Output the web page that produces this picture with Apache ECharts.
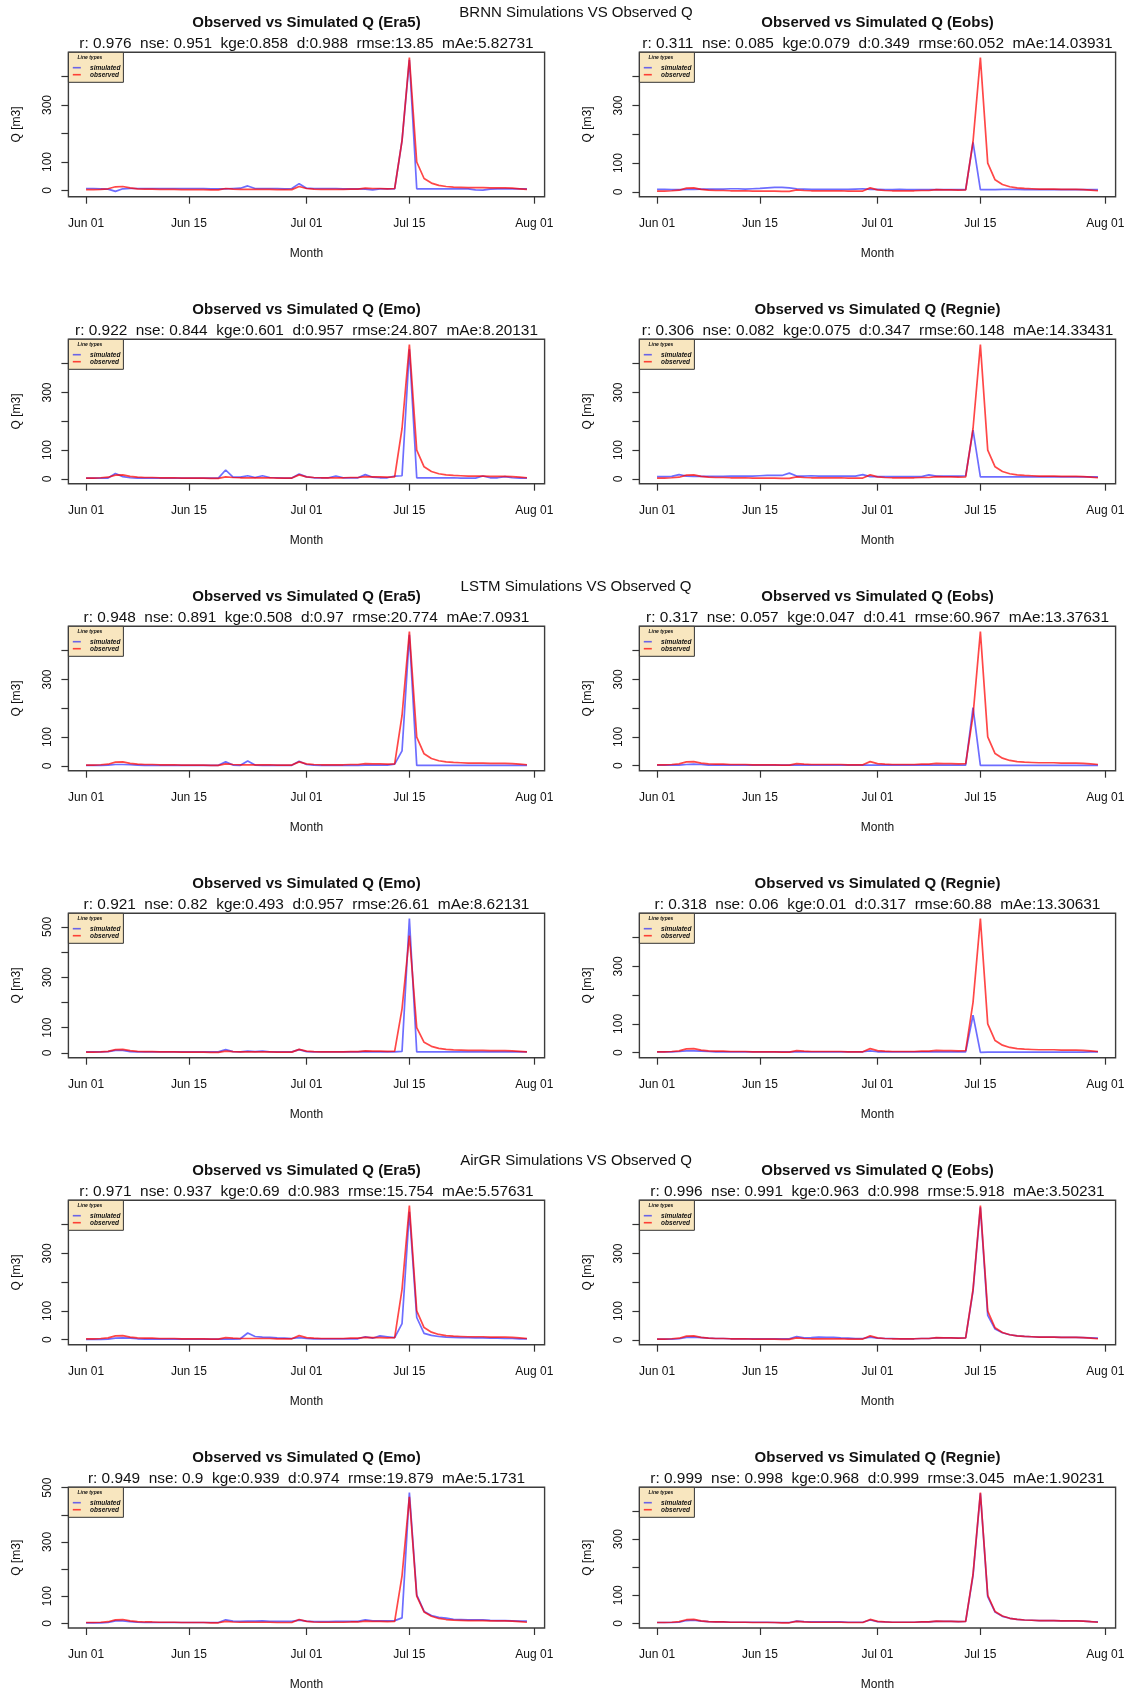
<!DOCTYPE html>
<html><head><meta charset="utf-8">
<script src="https://cdn.jsdelivr.net/npm/echarts@6/dist/echarts.min.js"></script>
<style>html,body{margin:0;padding:0;background:#fff}#c{width:1133px;height:1692px}</style>
</head><body><div id="c"></div>
<script>
// ---- data (day index 0 = Jun 01 ... 60 = Jul 31) ----
const xTickDays = [0, 14, 30, 44, 61];
const xTickLabels = ['Jun 01', 'Jun 15', 'Jul 01', 'Jul 15', 'Aug 01'];
const yTickValues = [0, 100, 200, 300, 400, 500];
const yLabelValues = [0, 100, 300, 500];
const groupTitles = ['BRNN Simulations VS Observed Q', 'LSTM Simulations VS Observed Q', 'AirGR Simulations VS Observed Q'];
const panelTitles = ['Observed vs Simulated Q (Era5)', 'Observed vs Simulated Q (Eobs)', 'Observed vs Simulated Q (Emo)', 'Observed vs Simulated Q (Regnie)'];

const observed = [3,3,4,6,13,14,9,6,5,5, 4,4,4,3,3,3,3,2,2,7, 5,4,4,4,4,4,3,3,3,14, 7,5,4,4,4,4,5,5,8,7, 7,6,7,175,466,100,42,26,18,14, 12,11,10,10,10,9,9,9,8,6,4];

const simBRNN_Era5 = [7,7,6,5,-3,6,7,7,7,7, 7,7,7,7,7,7,7,6,6,6, 7,8,16,7,7,7,7,6,7,24, 8,7,7,7,7,6,6,6,5,2, 6,6,6,175,458,6,6,6,6,6, 6,6,6,2,1,5,6,6,6,6,6];
const simBRNN_Eobs = [9,9,8,8,9,9,10,10,10,10, 11,11,10,11,12,14,16,16,14,11, 10,9,9,9,9,9,9,10,11,9, 9,8,8,9,8,8,8,8,8,8, 8,8,8,172,8,8,8,9,9,9, 8,8,8,8,8,8,8,8,8,8,8];
const simBRNN_Emo = [3,3,3,3,19,8,4,3,3,3, 3,3,3,3,3,3,3,3,3,31, 6,6,11,5,11,5,4,3,3,17, 7,4,4,4,10,4,4,4,15,6, 4,4,10,11,450,4,4,4,4,4, 4,3,3,3,10,4,4,8,4,3,3];
const simBRNN_Regnie = [8,8,9,15,10,9,9,9,9,9, 10,10,10,10,11,12,12,12,20,10, 10,11,10,10,10,10,10,10,15,8, 8,8,8,8,8,8,8,14,10,10, 10,10,11,169,7,7,7,7,7,7, 7,7,7,7,7,7,7,7,7,7,7];
const simLSTM_Era5 = [2,2,2,3,5,5,4,3,2,2, 2,2,2,2,2,2,2,2,2,14, 3,2,17,3,2,2,2,2,2,16, 5,3,2,2,2,2,2,2,3,3, 3,3,6,52,455,2,2,2,2,2, 2,2,2,2,2,2,2,2,2,2,2];
const simLSTM_Eobs = [2,2,2,2,4,5,4,2,2,2, 2,2,2,2,2,2,2,2,2,2, 2,2,2,2,2,2,2,2,2,2, 2,2,2,2,2,2,2,2,2,2, 2,2,2,202,1,1,1,1,1,1, 1,1,1,1,1,1,1,1,1,1,1];
const simLSTM_Emo = [4,4,4,5,10,10,5,4,4,4, 4,4,4,4,4,4,4,4,4,13, 5,4,7,5,7,4,4,4,4,13, 5,4,4,4,4,4,4,4,5,4, 4,4,4,6,533,4,4,4,4,4, 4,4,4,4,4,4,4,4,4,4,4];
const simLSTM_Regnie = [3,3,3,4,6,6,5,4,3,3, 3,3,3,3,3,3,3,3,3,3, 3,3,3,3,3,3,3,3,3,6, 3,3,3,3,3,3,3,3,3,3, 3,3,3,130,1,2,2,2,2,2, 2,2,2,2,2,2,2,2,2,3,3];
const simAirGR_Era5 = [1,1,1,2,5,6,5,3,2,2, 2,2,2,2,2,2,2,2,2,2, 2,3,23,11,9,8,6,5,4,7, 4,3,3,3,3,3,3,3,10,5, 13,10,7,56,445,77,22,15,11,9, 8,7,7,6,6,5,5,4,4,3,3];
const simAirGR_Eobs = [3,3,3,4,9,10,8,6,5,5, 4,4,4,4,4,4,4,4,4,12, 7,8,10,9,9,7,6,5,5,10, 6,5,5,4,4,4,5,5,7,7, 7,6,7,170,460,85,38,25,18,14, 12,11,10,10,10,9,9,9,8,7,6];
const simAirGR_Emo = [2,2,2,3,9,9,6,4,3,3, 3,3,3,3,3,3,3,3,3,13, 8,7,8,8,9,7,7,7,7,12, 8,6,6,6,7,7,7,7,13,9, 9,9,10,20,482,105,44,29,22,19, 15,14,13,13,13,11,10,10,9,8,8];
const simAirGR_Regnie = [3,3,3,4,10,11,8,6,5,5, 4,4,4,4,4,4,3,3,3,8, 6,5,5,5,5,5,4,4,4,12, 6,5,4,4,4,4,5,5,7,7, 7,6,7,170,463,95,40,25,18,14, 12,11,10,10,10,9,9,9,8,6,5];

const stats = [
  'r: 0.976  nse: 0.951  kge:0.858  d:0.988  rmse:13.85  mAe:5.82731',
  'r: 0.311  nse: 0.085  kge:0.079  d:0.349  rmse:60.052  mAe:14.03931',
  'r: 0.922  nse: 0.844  kge:0.601  d:0.957  rmse:24.807  mAe:8.20131',
  'r: 0.306  nse: 0.082  kge:0.075  d:0.347  rmse:60.148  mAe:14.33431',
  'r: 0.948  nse: 0.891  kge:0.508  d:0.97  rmse:20.774  mAe:7.0931',
  'r: 0.317  nse: 0.057  kge:0.047  d:0.41  rmse:60.967  mAe:13.37631',
  'r: 0.921  nse: 0.82  kge:0.493  d:0.957  rmse:26.61  mAe:8.62131',
  'r: 0.318  nse: 0.06  kge:0.01  d:0.317  rmse:60.88  mAe:13.30631',
  'r: 0.971  nse: 0.937  kge:0.69  d:0.983  rmse:15.754  mAe:5.57631',
  'r: 0.996  nse: 0.991  kge:0.963  d:0.998  rmse:5.918  mAe:3.50231',
  'r: 0.949  nse: 0.9  kge:0.939  d:0.974  rmse:19.879  mAe:5.1731',
  'r: 0.999  nse: 0.998  kge:0.968  d:0.999  rmse:3.045  mAe:1.90231'
];
const simulated = [simBRNN_Era5, simBRNN_Eobs, simBRNN_Emo, simBRNN_Regnie,
  simLSTM_Era5, simLSTM_Eobs, simLSTM_Emo, simLSTM_Regnie,
  simAirGR_Era5, simAirGR_Eobs, simAirGR_Emo, simAirGR_Regnie];

// ---- layout ----
const FONT = '"Liberation Sans", Arial, Helvetica, sans-serif';
const TXT = '#111';
const BLUE = 'rgba(20,20,255,0.62)';
const RED = 'rgba(255,0,0,0.72)';
const BOX_L0 = 68.4, COL_DX = 571, BOX_T0 = 52.3, ROW_DY = 287, BOX_W = 476.2, BOX_H = 144.4;

const grids = [], xAxes = [], yAxes = [], series = [], titles = [], graphics = [];
for (let g = 0; g < 3; g++) {
  titles.push({text: groupTitles[g], left: 576, top: BOX_T0 + g * 2 * ROW_DY - 46.5, textAlign: 'center', padding: 0,
    textStyle: {fontSize: 15, fontWeight: 'normal', color: TXT, fontFamily: FONT}});
}
for (let p = 0; p < 12; p++) {
  const r = Math.floor(p / 2), c = p % 2;
  const bl = BOX_L0 + c * COL_DX, bt = BOX_T0 + r * ROW_DY;
  const sim = simulated[p];
  const all = sim.concat(observed);
  const lo = Math.min.apply(null, all), hi = Math.max.apply(null, all);
  const pad = 0.04 * (hi - lo);
  const ymin = lo - pad, ymax = hi + pad;
  grids.push({left: bl, top: bt, width: BOX_W, height: BOX_H, show: true, borderColor: '#3c3c3c', borderWidth: 1.4, containLabel: false});
  xAxes.push({gridIndex: p, type: 'value', min: -2.4, max: 62.4, position: 'bottom',
    name: 'Month', nameLocation: 'middle', nameGap: 51, nameTextStyle: {fontSize: 12, color: TXT, fontFamily: FONT},
    axisLine: {show: false, onZero: false}, splitLine: {show: false},
    axisTick: {show: true, length: 7, inside: false, customValues: xTickDays, lineStyle: {color: '#333', width: 1.2}},
    axisLabel: {customValues: xTickDays, margin: 21, fontSize: 12, color: TXT, fontFamily: FONT,
      formatter: v => xTickLabels[xTickDays.indexOf(v)]}});
  yAxes.push({gridIndex: p, type: 'value', min: ymin, max: ymax, position: 'left',
    name: 'Q [m3]', nameLocation: 'middle', nameRotate: 90, nameGap: 46, nameTextStyle: {fontSize: 12, color: TXT, fontFamily: FONT},
    axisLine: {show: false, onZero: false}, splitLine: {show: false},
    axisTick: {show: true, length: 7, inside: false, customValues: yTickValues.filter(v => v >= ymin && v <= ymax), lineStyle: {color: '#333', width: 1.2}},
    axisLabel: {customValues: yLabelValues.filter(v => v >= ymin && v <= ymax), rotate: 90, margin: 15, fontSize: 12, color: TXT, fontFamily: FONT}});
  series.push({name: 'simulated', type: 'line', xAxisIndex: p, yAxisIndex: p, showSymbol: false, symbol: 'none',
    data: sim.map((v, i) => [i, v]), lineStyle: {color: BLUE, width: 1.7}, itemStyle: {color: BLUE}, z: 2});
  series.push({name: 'observed', type: 'line', xAxisIndex: p, yAxisIndex: p, showSymbol: false, symbol: 'none',
    data: observed.map((v, i) => [i, v]), lineStyle: {color: RED, width: 1.7}, itemStyle: {color: RED}, z: 3});
  titles.push({text: panelTitles[(r % 2) * 2 + c], subtext: stats[p], left: bl + BOX_W / 2, top: bt - 37, textAlign: 'center',
    itemGap: 6, padding: 0,
    textStyle: {fontSize: 15, fontWeight: 'bold', color: TXT, fontFamily: FONT},
    subtextStyle: {fontSize: 15.4, color: TXT, fontFamily: FONT}});
  graphics.push({type: 'group', x: bl, y: bt, z: 100, children: [
    {type: 'rect', shape: {x: 0, y: 0, width: 55, height: 30}, style: {fill: '#f8e6bf', stroke: '#333', lineWidth: 1}},
    {type: 'text', x: 21.5, y: 5.5, style: {text: 'Line types', font: 'italic bold 5px ' + FONT, fill: TXT, align: 'center', verticalAlign: 'middle'}},
    {type: 'line', shape: {x1: 4.4, y1: 15.4, x2: 12.4, y2: 15.4}, style: {stroke: BLUE, lineWidth: 1.6}},
    {type: 'text', x: 21.7, y: 15.6, style: {text: 'simulated', font: 'italic bold 6.5px ' + FONT, fill: TXT, align: 'left', verticalAlign: 'middle'}},
    {type: 'line', shape: {x1: 4.4, y1: 22.4, x2: 12.4, y2: 22.4}, style: {stroke: RED, lineWidth: 1.6}},
    {type: 'text', x: 21.7, y: 22.6, style: {text: 'observed', font: 'italic bold 6.5px ' + FONT, fill: TXT, align: 'left', verticalAlign: 'middle'}}
  ]});
}

const chart = echarts.init(document.getElementById('c'), null, {renderer: 'canvas'});
chart.setOption({
  animation: false,
  backgroundColor: '#fff',
  title: titles, grid: grids, xAxis: xAxes, yAxis: yAxes, series: series, graphic: graphics
});
</script></body></html>
